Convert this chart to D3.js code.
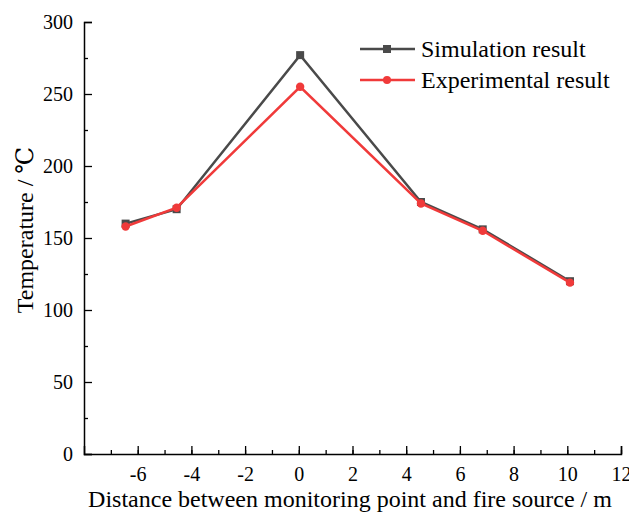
<!DOCTYPE html>
<html>
<head>
<meta charset="utf-8">
<script src="https://cdn.jsdelivr.net/npm/d3@7"></script>
<style>
  body { margin: 0; background: #fff; }
  svg text { font-family: "Liberation Serif", "DejaVu Serif", serif !important; fill: #000; }
</style>
</head>
<body>
<svg id="chart" width="629" height="514"></svg>
<script>
// distances (m) and temperatures (°C)
const distance = [-6.45, -4.55, 0.05, 4.55, 6.85, 10.1];
const simulation = [160, 170, 277, 175, 156, 120];
const experiment = [158, 171, 255, 174, 155, 119];
const xTicks = [-6, -4, -2, 0, 2, 4, 6, 8, 10, 12];
const yTicks = [0, 50, 100, 150, 200, 250, 300];

const svg = d3.select("#chart");
const mLeft = 84, mRight = 621, mTop = 22, mBottom = 454;
const serif = '"Liberation Serif", "DejaVu Serif", serif';

const x = d3.scaleLinear().domain([-8, 12]).range([mLeft, mRight]);
const y = d3.scaleLinear().domain([0, 300]).range([mBottom, mTop]);

// x axis, ticks pointing inward
const gx = svg.append("g").attr("transform", `translate(0,${mBottom})`);
gx.call(d3.axisBottom(x).tickValues(d3.range(-7, 13, 1)).tickSize(-4).tickFormat(""));
gx.select(".domain").remove();
gx.selectAll(".tick line").attr("stroke-width", 1.3);
const gx2 = svg.append("g").attr("transform", `translate(0,${mBottom})`);
gx2.call(d3.axisBottom(x).tickValues(xTicks).tickSize(-8).tickPadding(13).tickFormat(d => String(d)));
gx2.attr("font-family", serif);
gx2.select(".domain").attr("stroke-width", 1.5);
gx2.selectAll(".tick line").attr("stroke-width", 1.3);
gx2.selectAll(".tick text").attr("font-size", 20).style("font-family", serif);

// y axis
const gy = svg.append("g").attr("transform", `translate(${mLeft},0)`);
gy.call(d3.axisLeft(y).tickValues(d3.range(25, 300, 50)).tickSize(-4).tickFormat(""));
gy.select(".domain").remove();
gy.selectAll(".tick line").attr("stroke-width", 1.3);
const gy2 = svg.append("g").attr("transform", `translate(${mLeft},0)`);
gy2.call(d3.axisLeft(y).tickValues(yTicks).tickSize(-8).tickPadding(11));
gy2.attr("font-family", serif);
gy2.select(".domain").attr("stroke-width", 1.5);
gy2.selectAll(".tick line").attr("stroke-width", 1.3);
gy2.selectAll(".tick text").attr("font-size", 20).style("font-family", serif);

// axis titles
svg.append("text")
  .attr("x", 350).attr("y", 507)
  .attr("text-anchor", "middle").attr("font-size", 24).style("font-family", serif)
  .text("Distance between monitoring point and fire source / m");
svg.append("text")
  .attr("transform", `translate(33,230) rotate(-90)`)
  .attr("text-anchor", "middle").attr("font-size", 24).style("font-family", serif)
  .text("Temperature / ℃");

const simColor = "#4a4a4a", expColor = "#f03a3a";
const line = d3.line().x(d => x(d[0])).y(d => y(d[1]));

const simData = distance.map((d, i) => [d, simulation[i]]);
const expData = distance.map((d, i) => [d, experiment[i]]);

svg.append("path").datum(simData).attr("d", line)
  .attr("fill", "none").attr("stroke", simColor).attr("stroke-width", 2.5);
svg.selectAll(".sq").data(simData).enter().append("rect")
  .attr("x", d => x(d[0]) - 4).attr("y", d => y(d[1]) - 4)
  .attr("width", 8).attr("height", 8).attr("fill", simColor);

svg.append("path").datum(expData).attr("d", line)
  .attr("fill", "none").attr("stroke", expColor).attr("stroke-width", 2.5);
svg.selectAll(".dot").data(expData).enter().append("circle")
  .attr("cx", d => x(d[0])).attr("cy", d => y(d[1])).attr("r", 4.2)
  .attr("fill", expColor);

// legend
const legend = [
  { name: "Simulation result", color: simColor, shape: "square" },
  { name: "Experimental result", color: expColor, shape: "circle" }
];
legend.forEach((item, i) => {
  const ly = 49 + i * 31;
  svg.append("line").attr("x1", 360).attr("x2", 415).attr("y1", ly).attr("y2", ly)
    .attr("stroke", item.color).attr("stroke-width", 2.5);
  if (item.shape === "square") {
    svg.append("rect").attr("x", 383).attr("y", ly - 4).attr("width", 8).attr("height", 8).attr("fill", item.color);
  } else {
    svg.append("circle").attr("cx", 387).attr("cy", ly).attr("r", 4).attr("fill", item.color);
  }
  svg.append("text").attr("x", 421).attr("y", ly + 8).attr("font-size", 24).style("font-family", serif).text(item.name);
});
</script>
</body>
</html>
